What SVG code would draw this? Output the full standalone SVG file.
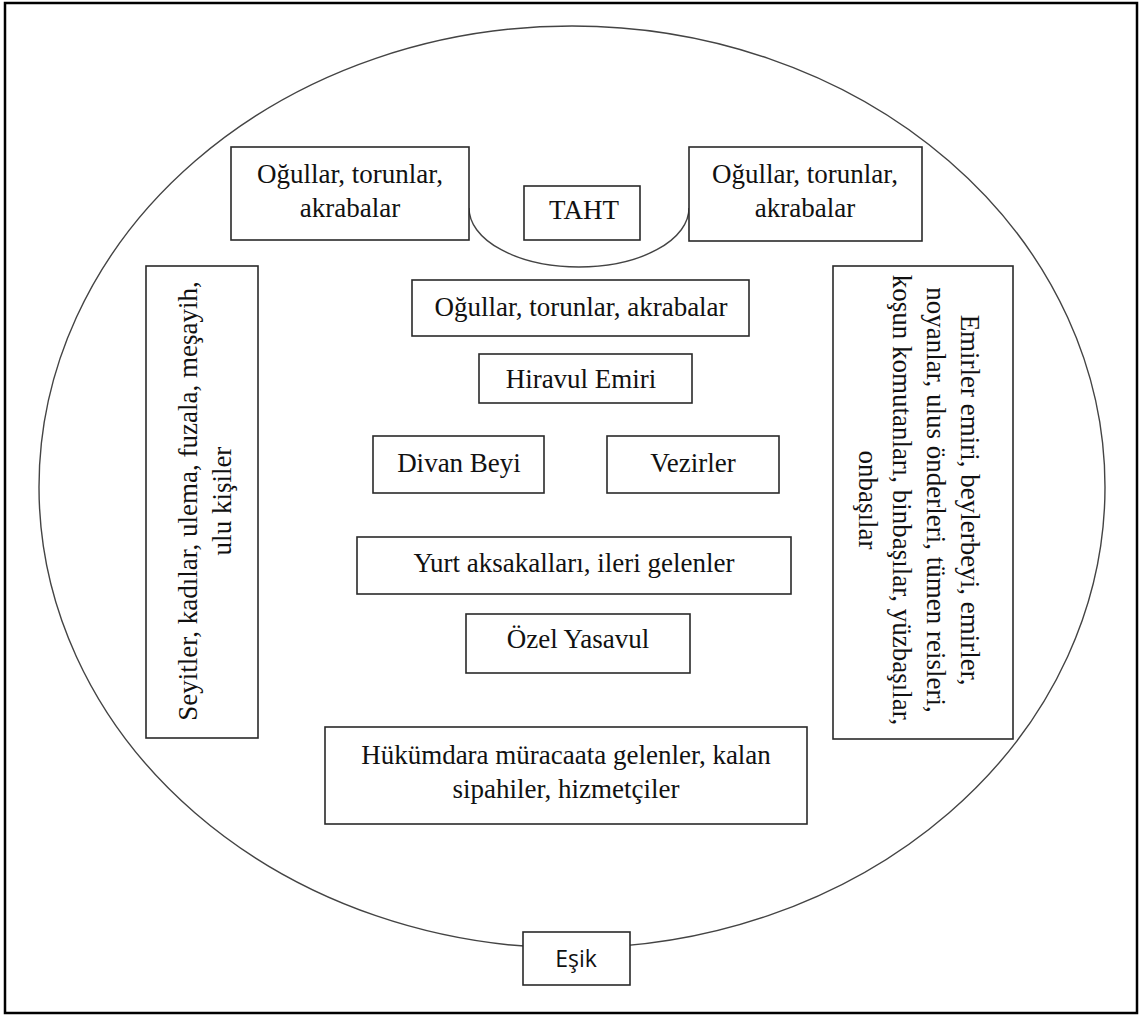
<svg xmlns="http://www.w3.org/2000/svg" width="1140" height="1016" viewBox="0 0 1140 1016">
<style>
.box{fill:#fff;stroke:#2a2a2a;stroke-width:1.6}
.t{font-family:"Liberation Serif","Times New Roman",serif;font-size:27px;fill:#111;text-anchor:middle}
.s{font-family:"Open Sans","Noto Sans",sans-serif;font-size:23px;fill:#111;text-anchor:middle}
.line{fill:none;stroke:#444;stroke-width:1.4}
</style>
<rect x="0" y="0" width="1140" height="1016" fill="#fff"/>
<rect x="5" y="3" width="1132" height="1010" fill="none" stroke="#000" stroke-width="2.5"/>
<g id="connectors">
<ellipse class="line" cx="572" cy="487" rx="533" ry="461"/>
<path class="line" d="M469,208 A110,59 0 0 0 689,208"/>
</g>
<g id="left-top">
<rect class="box" x="231" y="147" width="238" height="93"/>
<text class="t" x="350" y="183">Oğullar, torunlar,</text>
<text class="t" x="350" y="217">akrabalar</text>
</g>
<g id="taht">
<rect class="box" x="524" y="186" width="116" height="54"/>
<text class="t" x="584" y="219" font-size="28">TAHT</text>
</g>
<g id="right-top">
<rect class="box" x="689" y="147" width="233" height="94"/>
<text class="t" x="805" y="183">Oğullar, torunlar,</text>
<text class="t" x="805" y="217">akrabalar</text>
</g>
<g id="center-relatives">
<rect class="box" x="412" y="280" width="337" height="56"/>
<text class="t" x="581" y="316">Oğullar, torunlar, akrabalar</text>
</g>
<g id="hiravul">
<rect class="box" x="479" y="354" width="213" height="49"/>
<text class="t" x="581" y="388">Hiravul Emiri</text>
</g>
<g id="divan">
<rect class="box" x="373" y="436" width="171" height="57"/>
<text class="t" x="459" y="472">Divan Beyi</text>
</g>
<g id="vezirler">
<rect class="box" x="607" y="436" width="172" height="57"/>
<text class="t" x="693" y="472">Vezirler</text>
</g>
<g id="yurt">
<rect class="box" x="357" y="537" width="434" height="57"/>
<text class="t" x="574" y="572">Yurt aksakalları, ileri gelenler</text>
</g>
<g id="yasavul">
<rect class="box" x="466" y="614" width="224" height="59"/>
<text class="t" x="578" y="648">Özel Yasavul</text>
</g>
<g id="hukumdara">
<rect class="box" x="325" y="727" width="482" height="97"/>
<text class="t" x="566" y="764">Hükümdara müracaata gelenler, kalan</text>
<text class="t" x="566" y="798">sipahiler, hizmetçiler</text>
</g>
<g id="esik">
<rect class="box" x="523" y="932" width="107" height="53"/>
<text class="s" x="576" y="967">Eşik</text>
</g>
<g id="left-side">
<rect class="box" x="146" y="266" width="112" height="472"/>
<text class="t" transform="translate(197,501) rotate(-90)" x="0" y="0">Seyitler, kadılar, ulema, fuzala, meşayih,</text>
<text class="t" transform="translate(231,501) rotate(-90)" x="0" y="0">ulu kişiler</text>
</g>
<g id="right-side">
<rect class="box" x="833" y="266" width="180" height="473"/>
<text class="t" transform="translate(961,500) rotate(90)" x="0" y="0">Emirler emiri, beylerbeyi, emirler,</text>
<text class="t" transform="translate(927,500) rotate(90)" x="0" y="0">noyanlar, ulus önderleri, tümen reisleri,</text>
<text class="t" transform="translate(893,500) rotate(90)" x="0" y="0">koşun komutanları, binbaşılar, yüzbaşılar,</text>
<text class="t" transform="translate(859,500) rotate(90)" x="0" y="0">onbaşılar</text>
</g>
</svg>
